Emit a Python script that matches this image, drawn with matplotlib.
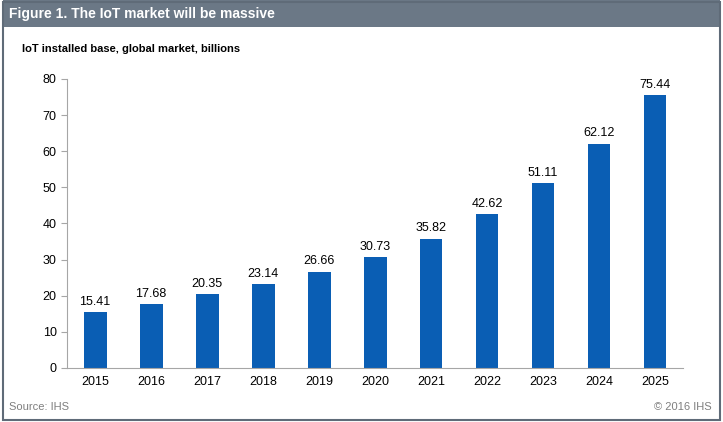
import numpy as np
import matplotlib.pyplot as plt
from matplotlib.patches import Rectangle

plt.rcParams['font.family'] = ['Liberation Sans', 'DejaVu Sans']

years = ['2015', '2016', '2017', '2018', '2019', '2020', '2021', '2022', '2023', '2024', '2025']
installed_base = [15.41, 17.68, 20.35, 23.14, 26.66, 30.73, 35.82, 42.62, 51.11, 62.12, 75.44]

fig = plt.figure(figsize=(7.23, 4.22), dpi=100)

# header bar + frame
fig.patches.append(Rectangle((0.004, 0.935), 0.992, 0.065, transform=fig.transFigure,
                             facecolor='#6b7886', edgecolor='none', zorder=0))
fig.patches.append(Rectangle((0.004, 0.004), 0.992, 0.992, transform=fig.transFigure,
                             facecolor='none', edgecolor='#5f6b78', linewidth=1.5, zorder=5))
fig.text(0.012, 0.966, 'Figure 1. The IoT market will be massive', color='white',
         fontsize=10, fontweight='bold', va='center', ha='left')
fig.text(0.03, 0.884, 'IoT installed base, global market, billions', color='black',
         fontsize=8, fontweight='bold', va='center', ha='left')
fig.text(0.012, 0.036, 'Source: IHS', color='#7f7f7f', fontsize=8, va='center', ha='left')
fig.text(0.984, 0.036, '\u00a9 2016 IHS', color='#7f7f7f', fontsize=8, va='center', ha='right')

ax = fig.add_axes([0.0927, 0.128, 0.852, 0.685])
x = np.arange(len(years))
bars = ax.bar(x, installed_base, width=0.41, color='#0a5eb4', zorder=2)
for xi, v in zip(x, installed_base):
    ax.text(xi, v + 1.2, '%.2f' % v, ha='center', va='bottom', fontsize=9)

ax.set_xlim(-0.5, len(years) - 0.5)
ax.set_ylim(0, 80)
ax.set_yticks(np.arange(0, 81, 10))
ax.set_xticks(x)
ax.set_xticklabels(years)
for s in ['top', 'right']:
    ax.spines[s].set_visible(False)
ax.spines['left'].set_color('#a6a6a6')
ax.spines['bottom'].set_color('#a6a6a6')
ax.tick_params(axis='y', colors='#a6a6a6', labelcolor='black', labelsize=9, length=4)
ax.tick_params(axis='x', length=0, labelsize=9, pad=6)

plt.savefig('out.png', dpi=100)
